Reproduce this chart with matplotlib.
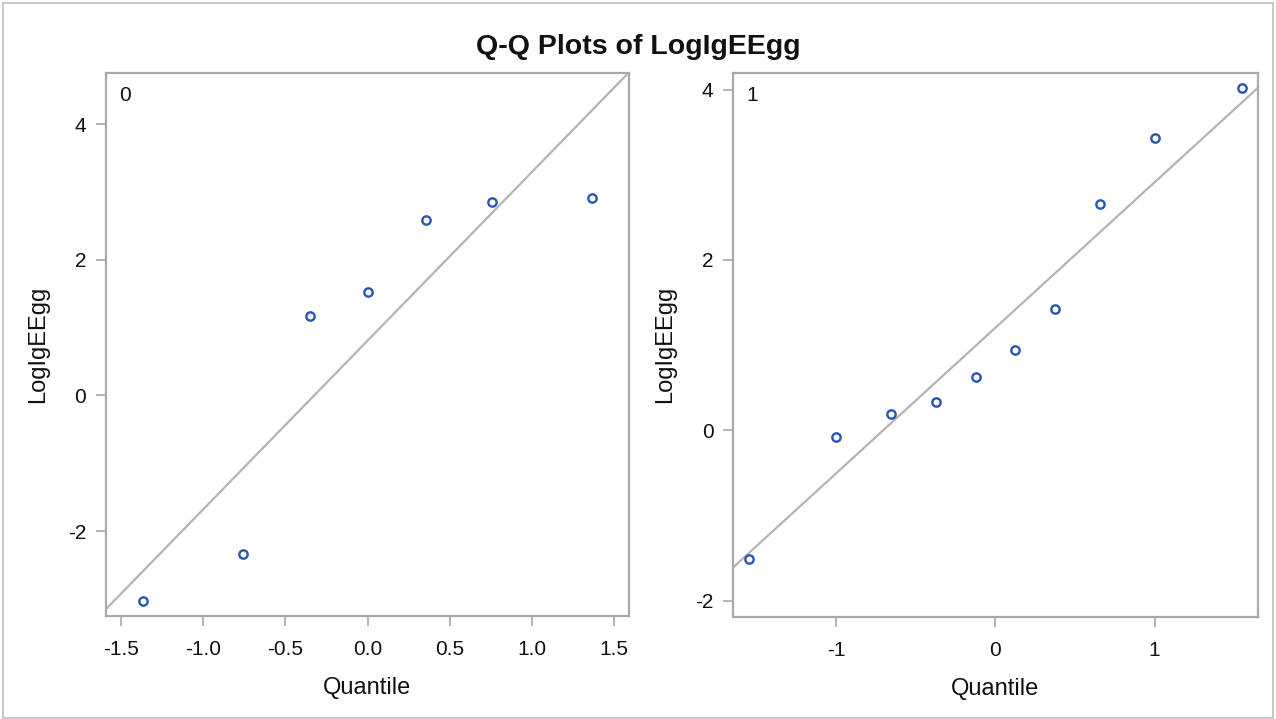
import numpy as np
import matplotlib
matplotlib.use("Agg")
import matplotlib.pyplot as plt
from matplotlib.patches import Rectangle

plt.rcParams['font.family'] = ['Liberation Sans', 'DejaVu Sans']

title = "Q-Q Plots of LogIgEEgg"
group_labels = ["0", "1"]

# Normal quantiles (Blom) and sorted observed values for each group
q0 = [-1.365, -0.758, -0.353, 0.0, 0.353, 0.758, 1.365]
y0 = [-3.03, -2.34, 1.17, 1.52, 2.58, 2.85, 2.91]

q1 = [-1.547, -1.000, -0.655, -0.375, -0.123, 0.123, 0.375, 0.655, 1.000, 1.547]
y1 = [-1.51, -0.075, 0.19, 0.33, 0.63, 0.94, 1.43, 2.66, 3.43, 4.02]

xticks0 = [-1.5, -1.0, -0.5, 0.0, 0.5, 1.0, 1.5]
xticks1 = [-1, 0, 1]
yticks0 = [-2, 0, 2, 4]
yticks1 = [-2, 0, 2, 4]

W, H = 1276, 719
fig = plt.figure(figsize=(W / 100, H / 100), dpi=100)
fig.patches.append(Rectangle((0.002, 0.002), 0.996, 0.994, transform=fig.transFigure,
                             fill=False, edgecolor='#c8c8c8', linewidth=1.5))

def box(x0, y0_, x1, y1_):
    return [x0 / W, 1 - y1_ / H, (x1 - x0) / W, (y1_ - y0_) / H]

ax0 = fig.add_axes(box(105.7, 72.5, 629, 616))
ax1 = fig.add_axes(box(733, 72.5, 1257.5, 617))

spine_c = '#a6a9ad'
mk_c = '#2a54b8'
line_c = '#b4b4b4'

def style(ax, q, y, xticks, yticks, xlim, ylim, xfmt, label):
    q = np.asarray(q); y = np.asarray(y)
    mu, sd = y.mean(), y.std(ddof=1)
    xs = np.array(xlim)
    ax.plot(xs, mu + sd * xs, color=line_c, lw=1.6, zorder=2)
    ax.plot(q, y, linestyle='none', marker='o', markersize=6, markerfacecolor='white',
            markeredgecolor=mk_c, markeredgewidth=1.7, zorder=3)
    ax.set_xlim(*xlim); ax.set_ylim(*ylim)
    ax.set_xticks(xticks)
    ax.set_xticklabels([xfmt.format(v) for v in xticks])
    ax.set_yticks(yticks)
    ax.set_yticklabels([str(v) for v in yticks])
    for s in ax.spines.values():
        s.set_color(spine_c); s.set_linewidth(1.6)
    ax.tick_params(axis='both', colors=spine_c, labelcolor='#111111', length=7,
                   width=1.2, labelsize=15)
    ax.tick_params(axis='x', pad=10.5)
    ax.tick_params(axis='y', pad=7)
    ax.set_xlabel("Quantile", fontsize=17, color='#111111', labelpad=13)
    ax.set_ylabel("LogIgEEgg", fontsize=17, color='#111111', labelpad=13.5)
    ax.text(0.037, 0.957, label, transform=ax.transAxes, ha='center', va='center',
            fontsize=15, color='#111111')

style(ax0, q0, y0, xticks0, yticks0, (-1.595, 1.592), (-3.25, 4.76), "{:.1f}", group_labels[0])
style(ax1, q1, y1, xticks1, yticks1, (-1.648, 1.646), (-2.19, 4.20), "{:d}", group_labels[1])

fig.text(0.5, 1 - 47 / H, title, ha='center', va='center', fontsize=20.5,
         fontweight='bold', color='#111111')

fig.savefig("out.png", dpi=100)
